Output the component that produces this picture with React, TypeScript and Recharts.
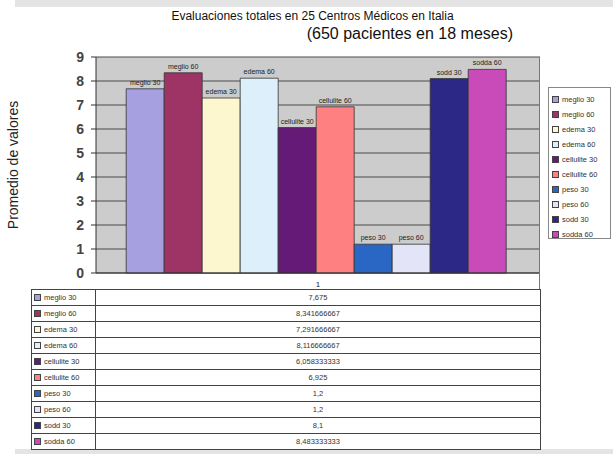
import React from 'react';
import { BarChart, Bar, XAxis, YAxis, CartesianGrid, LabelList } from 'recharts';

const categories = ['1'];
const seriesKeys = ['meglio30', 'meglio60', 'edema30', 'edema60', 'cellulite30', 'cellulite60', 'peso30', 'peso60', 'sodd30', 'sodda60'];
const seriesNames = ['meglio 30', 'meglio 60', 'edema 30', 'edema 60', 'cellulite 30', 'cellulite 60', 'peso 30', 'peso 60', 'sodd 30', 'sodda 60'];
const seriesValues = [7.675, 8.341666667, 7.291666667, 8.116666667, 6.058333333, 6.925, 1.2, 1.2, 8.1, 8.483333333];
const seriesColors = ['#a6a0e0', '#9e3366', '#fdf7d0', '#dceffa', '#661a77', '#ff8080', '#2a66c4', '#e4e4f8', '#2b2886', '#c94ab9'];
const yTicks = [0, 1, 2, 3, 4, 5, 6, 7, 8, 9];

const font = '"Liberation Sans", Arial, sans-serif';

const data = categories.map((name) => {
  const row: Record<string, string | number> = { name };
  seriesKeys.forEach((k, i) => { row[k] = seriesValues[i]; });
  return row;
});

const fmt = (v: number) => String(v).replace('.', ',');

// series name drawn above each bar, on one line
const nameLabel = (name: string) => (props: any) => {
  const { x, y, width } = props;
  return (
    <text x={Number(x) + Number(width) / 2} y={Number(y) - 4} textAnchor="middle" fontSize={7} fill="#222" fontFamily={font}>
      {name}
    </text>
  );
};

export default function App() {
  return (
    <div style={{ position: 'absolute', left: 0, top: 0, width: 613, height: 454, background: '#fff', fontFamily: font, overflow: 'hidden' }}>
      <div style={{ position: 'absolute', left: 15, top: 0, width: 598, height: 7, background: '#e4e4e4' }} />
      <div style={{ position: 'absolute', left: 15, top: 449, width: 598, height: 5, background: '#e4e4e4' }} />
      <div style={{ position: 'absolute', left: 0, top: 9, width: 625, textAlign: 'center', fontSize: 12, color: '#111' }}>
        Evaluaciones totales en 25 Centros Médicos en Italia
      </div>
      <div style={{ position: 'absolute', right: 100, top: 25, fontSize: 16, color: '#111' }}>
        (650 pacientes en 18 meses)
      </div>

      <div style={{ position: 'absolute', left: 0, top: 0 }}>
        <BarChart width={613} height={454} data={data} margin={{ top: 57, right: 73, left: 66, bottom: 165 }} barCategoryGap="6.8%" barGap={0}>
          <CartesianGrid vertical={false} fill="#cccccc" stroke="#4a4a4a" />
          <XAxis dataKey="name" height={16} tickLine={false} axisLine={{ stroke: '#333' }} tickMargin={2} tick={{ fontSize: 8, fill: '#222', fontFamily: font }} />
          <YAxis
            domain={[0, 9]}
            ticks={yTicks}
            interval={0}
            width={30}
            tickSize={5}
            tickMargin={7}
            axisLine={{ stroke: '#333' }}
            tickLine={{ stroke: '#333' }}
            tick={{ fontSize: 14, fill: '#444', fontWeight: 'bold', fontFamily: font }}
            label={{ value: 'Promedio de valores', angle: -90, position: 'left', offset: 53, style: { fontSize: 14, fill: '#222', fontFamily: font, textAnchor: 'middle' } }}
          />
          {seriesKeys.map((k, i) => (
            <Bar key={k} dataKey={k} name={seriesNames[i]} fill={seriesColors[i]} stroke="#333" strokeWidth={0.8} isAnimationActive={false}>
              <LabelList dataKey={k} content={nameLabel(seriesNames[i])} />
            </Bar>
          ))}
        </BarChart>
      </div>

      {/* right border of the plot */}
      <div style={{ position: 'absolute', left: 539, top: 57, width: 1, height: 232, background: '#777' }} />

      {/* legend */}
      <div style={{ position: 'absolute', left: 548, top: 87, width: 63, height: 152, border: '1px solid #888', background: '#fff', boxSizing: 'border-box', paddingTop: 4 }}>
        {seriesNames.map((n, i) => (
          <div key={n} style={{ display: 'flex', alignItems: 'center', height: 15, fontSize: 7.5, color: '#333', paddingLeft: 3, whiteSpace: 'nowrap' }}>
            <span style={{ width: 5, height: 5, background: seriesColors[i], border: '1px solid #444', marginRight: 3, flex: 'none' }} />
            {n}
          </div>
        ))}
      </div>

      {/* data table */}
      <div style={{ position: 'absolute', left: 31, top: 289, width: 510, borderTop: '1px solid #444', borderLeft: '1px solid #444', boxSizing: 'border-box' }}>
        {seriesNames.map((n, i) => (
          <div key={n} style={{ display: 'flex', height: 16, borderBottom: '1px solid #444', boxSizing: 'border-box', fontSize: 7.5, color: '#333' }}>
            <div style={{ width: 64, borderRight: '1px solid #444', display: 'flex', alignItems: 'center', paddingLeft: 2, whiteSpace: 'nowrap', boxSizing: 'border-box' }}>
              <span style={{ width: 5, height: 5, background: seriesColors[i], border: '1px solid #444', marginRight: 3, flex: 'none' }} />
              {n}
            </div>
            <div style={{ flex: 1, borderRight: '1px solid #444', display: 'flex', alignItems: 'center', justifyContent: 'center' }}>
              {fmt(seriesValues[i])}
            </div>
          </div>
        ))}
      </div>
    </div>
  );
}
